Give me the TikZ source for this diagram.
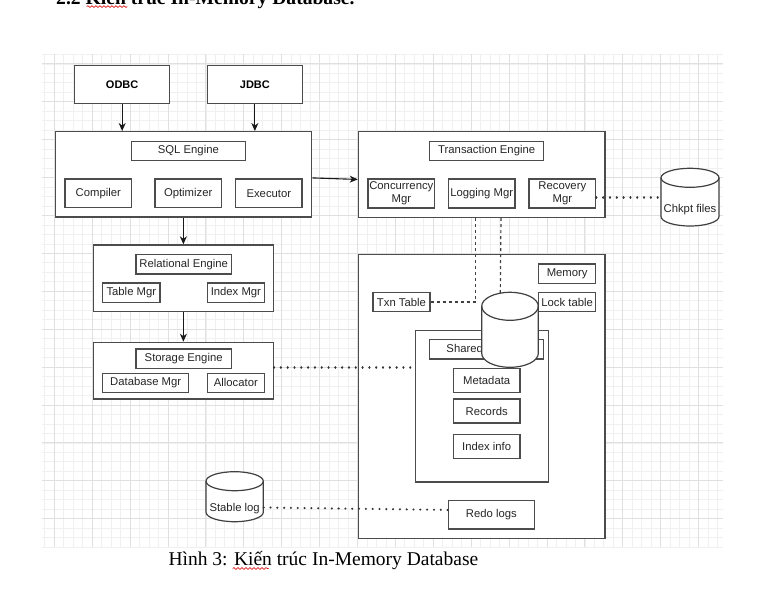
\documentclass[tikz,border=0pt]{standalone}
\usepackage{fontspec}
\setmainfont{Liberation Serif}
\newfontfamily\arialf{Liberation Sans}
\usetikzlibrary{arrows.meta,decorations.pathmorphing}
\tikzset{
  box/.style={draw=black!70,line width=1.35pt,fill=white,inner sep=0pt,align=center,
    font=\arialf\fontsize{11.3}{13.3}\selectfont,text=black!85},
  boldbox/.style={box,font=\arialf\bfseries\fontsize{11}{13}\selectfont,text=black},
  arr/.style={draw=black!90,line width=1.1pt,-{Stealth[length=8pt,width=7pt,inset=2.5pt]}},
  dotl/.style={draw=black!80,line width=2.3pt,line cap=round,dash pattern=on 0.01pt off 6.8pt},
  dashl/.style={draw=black!75,line width=1.2pt,dash pattern=on 3pt off 3pt},
  minorl/.style={draw=black!6,line width=0.8pt},
  majorl/.style={draw=black!12,line width=0.9pt},
  cylst/.style={draw=black!75,line width=1.2pt,fill=white},
  squig/.style={draw=red!85!black,line width=0.6pt,decorate,decoration={snake,amplitude=0.9pt,segment length=4pt}}
}
\newcommand\bx[7][box]{%
  \pgfmathsetmacro\bw{#5-#3}\pgfmathsetmacro\bh{#6-#4}%
  \node[#1,minimum width=\bw pt,minimum height=\bh pt,anchor=north west] (#2) at (#3,#4) {#7};}
\newcommand\mycyl[8]{%
  \pgfmathsetmacro\cxc{(#2+#4)/2}\pgfmathsetmacro\crx{(#4-#2)/2}%
  \pgfmathsetmacro\ckx{0.5523*\crx}\pgfmathsetmacro\cky{0.5523*#6}%
  \pgfmathsetmacro\cyt{#3+#6}\pgfmathsetmacro\cyb{#5-#6}\pgfmathsetmacro\cylo{#3+2*#6}%
  \path[cylst] (#2,\cyt) -- (#2,\cyb) .. controls (#2,\cyb+\cky) and (\cxc-\ckx,#5) .. (\cxc,#5)
    .. controls (\cxc+\ckx,#5) and (#4,\cyb+\cky) .. (#4,\cyb) -- (#4,\cyt)
    .. controls (#4,\cyt-\cky) and (\cxc+\ckx,#3) .. (\cxc,#3)
    .. controls (\cxc-\ckx,#3) and (#2,\cyt-\cky) .. cycle;
  \draw[cylst,fill=none] (#2,\cyt) .. controls (#2,\cyt+\cky) and (\cxc-\ckx,\cylo) .. (\cxc,\cylo)
    .. controls (\cxc+\ckx,\cylo) and (#4,\cyt+\cky) .. (#4,\cyt);
  \pgfmathsetmacro\bw{#4-#2}\pgfmathsetmacro\bh{#5-#3}%
  \node[inner sep=0pt,minimum width=\bw pt,minimum height=\bh pt,anchor=north west] (#1) at (#2,#3) {};
  \node[inner sep=0pt,font=\arialf\fontsize{11.3}{13.3}\selectfont,text=black!85] at (\cxc,#7) {#8};}
\begin{document}
\begin{tikzpicture}[x=1pt,y=-1pt]
\useasboundingbox[fill=white] (0,0) rectangle (767,597);
% heading (clipped at top, as in the reference)
\node[anchor=base west,inner sep=0pt,font=\bfseries\fontsize{19.6}{22}\selectfont] (head) at (56,4.3) {2.2 Kiến trúc In-Memory Database.};
\draw[squig] (86.7,6.6) -- (127.3,6.6);
% grid
\begin{scope}
\clip (42,54) rectangle (723,547);
\foreach \k in {-2,...,71} {\pgfmathsetmacro\gx{54.3+9.475*\k}\draw[minorl] (\gx,54) -- (\gx,547);}
\foreach \k in {-50,...,3} {\pgfmathsetmacro\gy{518.7+9.475*\k}\draw[minorl] (42,\gy) -- (723,\gy);}
\foreach \k in {0,...,17} {\pgfmathsetmacro\gx{54.3+37.9*\k}\draw[majorl] (\gx,54) -- (\gx,547);}
\foreach \k in {-13,...,0} {\pgfmathsetmacro\gy{518.7+37.9*\k}\draw[majorl] (42,\gy) -- (723,\gy);}
\end{scope}
% left column
\bx[boldbox]{odbc}{74}{65}{169}{102.7}{ODBC}
\bx[boldbox]{jdbc}{206.7}{65}{301.7}{102.7}{JDBC}
\bx{sql}{55}{131}{311}{216.3}{}
\bx{sqllbl}{130.7}{140.7}{244.7}{159.7}{SQL Engine}
\bx{compiler}{64.3}{178.3}{131}{206.7}{Compiler}
\bx{optimizer}{154.3}{178.3}{220.7}{206.7}{Optimizer}
\bx{executor}{235}{178.3}{301.3}{206.7}{Executor}
\bx{rel}{92.7}{244.3}{272.7}{310.7}{}
\bx{rellbl}{135.3}{253.7}{230.7}{273.3}{Relational Engine}
\bx{tablemgr}{102}{282.3}{159.3}{301.7}{Table Mgr}
\bx{indexmgr}{206.7}{282.3}{263.7}{301.7}{Index Mgr}
\bx{sto}{92.7}{341.7}{272.7}{398.3}{}
\bx{stolbl}{135.3}{348.3}{230.7}{367.7}{Storage Engine}
\bx{dbmgr}{102}{372.7}{188}{391.7}{Database Mgr}
\bx{alloc}{206.7}{372.7}{263.7}{391.7}{Allocator}
% right column
\bx{txn}{357.7}{131}{604.3}{216.7}{}
\bx{txnlbl}{429}{140.7}{543}{159.7}{Transaction Engine}
\bx{conc}{367.3}{178.3}{434}{207.3}{Concurrency\\Mgr}
\bx{logging}{447.7}{178.3}{514.3}{207.3}{Logging Mgr}
\bx{recovery}{528.3}{178.3}{595}{207.3}{Recovery\\Mgr}
\bx{mem}{357.7}{254}{604.3}{538}{}
\bx{memlbl}{538}{263.3}{595}{282.7}{Memory}
\bx{locktbl}{538}{291.7}{595}{311}{Lock table}
\bx{txntbl}{372.3}{291.7}{429.3}{311}{Txn Table}
\bx{shm}{415}{329.7}{548}{481.3}{}
\bx{shmlbl}{429}{339}{543}{358.3}{Shared Memory}
\bx{meta}{452.7}{367.7}{519.3}{391.7}{Metadata}
\bx{records}{452.7}{398.3}{519.3}{422.3}{Records}
\bx{idxinfo}{452.7}{433.7}{519.3}{457.7}{Index info}
\bx{redo}{447.7}{500}{533.7}{528.3}{Redo logs}
% arrows
\draw[arr] (odbc.south) -- (sql.north -| odbc.south);
\draw[arr] (jdbc.south) -- (sql.north -| jdbc.south);
\draw[arr] (sql.south -| rel.north) -- (rel.north);
\draw[arr] (rel.south) -- (sto.north);
\draw[arr] ([yshift=-3.6pt]sql.east) -- ([yshift=-4.9pt]txn.west);
% dashed
\draw[dashl] (txntbl.east) -| ([xshift=-6pt]logging.south |- txn.south);
% cylinders
\mycyl{chkpt}{661}{168.3}{719}{226}{9.5}{210}{Chkpt files}
\mycyl{stable}{206}{471.7}{263.3}{521.7}{9.5}{508.3}{Stable log}
\draw[dashl] ([xshift=19.3pt]logging.south |- txn.south) -- (500.3,292.8);
\mycyl{shmcyl}{481.7}{292.3}{538.3}{367.3}{14}{330}{}
% dotted
\draw[dotl] ([yshift=-3.9pt]recovery.east) -- ([yshift=-3.9pt]chkpt.west |- recovery.east);
\draw[dotl] ([yshift=3.3pt]sto.east) -- ([yshift=3.3pt]shm.west |- sto.east);
\draw[dotl] ([yshift=-10.6pt]stable.east) -- ([yshift=4.9pt]redo.west);
% caption
\node[anchor=base west,inner sep=0pt,font=\fontsize{19.5}{22}\selectfont] (cap) at (168.3,565) {Hình 3: Kiến trúc In-Memory Database};
\draw[squig] (232.7,568.5) -- (268.7,568.5);
\end{tikzpicture}
\end{document}
